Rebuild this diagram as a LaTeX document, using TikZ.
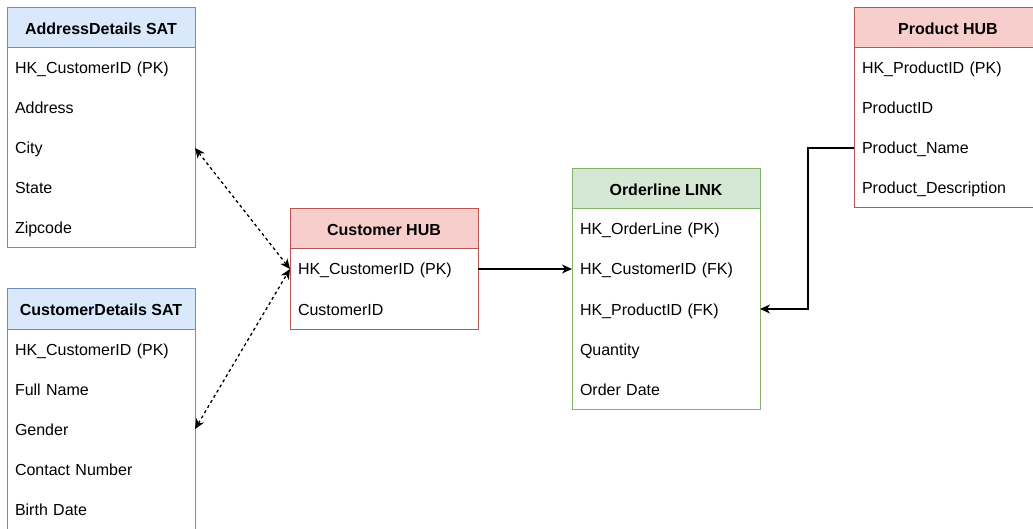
\documentclass[tikz,border=0pt]{standalone}
\usepackage{fontspec}
\setmainfont{Liberation Sans}
\usetikzlibrary{positioning,fit,arrows.meta}

\definecolor{satfill}{HTML}{DAE8FC}
\definecolor{satline}{HTML}{6C8EBF}
\definecolor{hubfill}{HTML}{F8CECC}
\definecolor{hubline}{HTML}{B85450}
\definecolor{lnkfill}{HTML}{D5E8D4}
\definecolor{lnkline}{HTML}{82B366}

\begin{document}
\begin{tikzpicture}[x=1pt, y=-1pt,
    every node/.style={font=\fontsize{16}{19}\selectfont, text height=12pt, text depth=0pt, outer sep=0pt},
    head/.style={minimum width=188pt, minimum height=40pt, inner sep=0pt, line width=1pt,
        font=\fontsize{16}{19}\selectfont\bfseries, text height=12.5pt},
    field/.style={text width=172pt, inner xsep=8pt, inner ysep=0pt, minimum height=40pt, align=left},
    frame/.style={fit=#1, inner sep=0pt, line width=1pt},
    sathead/.style={head, draw=satline, fill=satfill},
    hubhead/.style={head, draw=hubline, fill=hubfill},
    lnkhead/.style={head, draw=lnkline, fill=lnkfill},
    arrowtip/.style={line width=1.3pt, -{Stealth[length=10pt, width=9pt, inset=3pt]}},
    satlink/.style={line width=1.3pt, dash pattern=on 3pt off 3pt,
        {Stealth[length=10pt, width=9pt, inset=3pt]}-{Stealth[length=10pt, width=9pt, inset=3pt]}}
]
    \useasboundingbox (0,0) rectangle (1033,529);
    \clip (0,0) rectangle (1033,529);

    % AddressDetails satellite
    \node[sathead] at (101,28) (addrh) {AddressDetails SAT};
    \node[field, below=0pt of addrh] (addr1) {HK\_CustomerID (PK)};
    \node[field, below=0pt of addr1] (addr2) {Address};
    \node[field, below=0pt of addr2] (addr3) {City};
    \node[field, below=0pt of addr3] (addr4) {State};
    \node[field, below=0pt of addr4] (addr5) {Zipcode};
    \node[frame={(addrh)(addr5)}, draw=satline] (addr) {};

    % CustomerDetails satellite
    \node[sathead] at (101,309) (cdeth) {CustomerDetails SAT};
    \node[field, below=0pt of cdeth] (cdet1) {HK\_CustomerID (PK)};
    \node[field, below=0pt of cdet1] (cdet2) {Full Name};
    \node[field, below=0pt of cdet2] (cdet3) {Gender};
    \node[field, below=0pt of cdet3] (cdet4) {Contact Number};
    \node[field, below=0pt of cdet4] (cdet5) {Birth Date};
    \node[frame={(cdeth)(cdet5)}, draw=satline] (cdet) {};

    % Customer hub
    \node[hubhead] at (384,229) (custh) {Customer HUB};
    \node[field, below=0pt of custh] (cust1) {HK\_CustomerID (PK)};
    \node[field, below=0pt of cust1] (cust2) {CustomerID};
    \node[frame={(custh)(cust2)}, draw=hubline] (cust) {};

    % Orderline link
    \node[lnkhead] at (666,189) (lnkh) {Orderline LINK};
    \node[field, below=0pt of lnkh] (lnk1) {HK\_OrderLine (PK)};
    \node[field, below=0pt of lnk1] (lnk2) {HK\_CustomerID (FK)};
    \node[field, below=0pt of lnk2] (lnk3) {HK\_ProductID (FK)};
    \node[field, below=0pt of lnk3] (lnk4) {Quantity};
    \node[field, below=0pt of lnk4] (lnk5) {Order Date};
    \node[frame={(lnkh)(lnk5)}, draw=lnkline] (lnk) {};

    % Product hub
    \node[hubhead] at (948,28) (prodh) {Product HUB};
    \node[field, below=0pt of prodh] (prod1) {HK\_ProductID (PK)};
    \node[field, below=0pt of prod1] (prod2) {ProductID};
    \node[field, below=0pt of prod2] (prod3) {Product\_Name};
    \node[field, below=0pt of prod3] (prod4) {Product\_Description};
    \node[frame={(prodh)(prod4)}, draw=hubline] (prod) {};

    % connectors
    \draw[satlink] (addr3.east) -- (cust1.west);
    \draw[satlink] (cdet3.east) -- (cust1.west);
    \draw[arrowtip] (cust1.east) -- (lnk2.west);
    \draw[arrowtip] (prod3.west) -- ++(-46,0) |- (lnk3.east);
\end{tikzpicture}
\end{document}
